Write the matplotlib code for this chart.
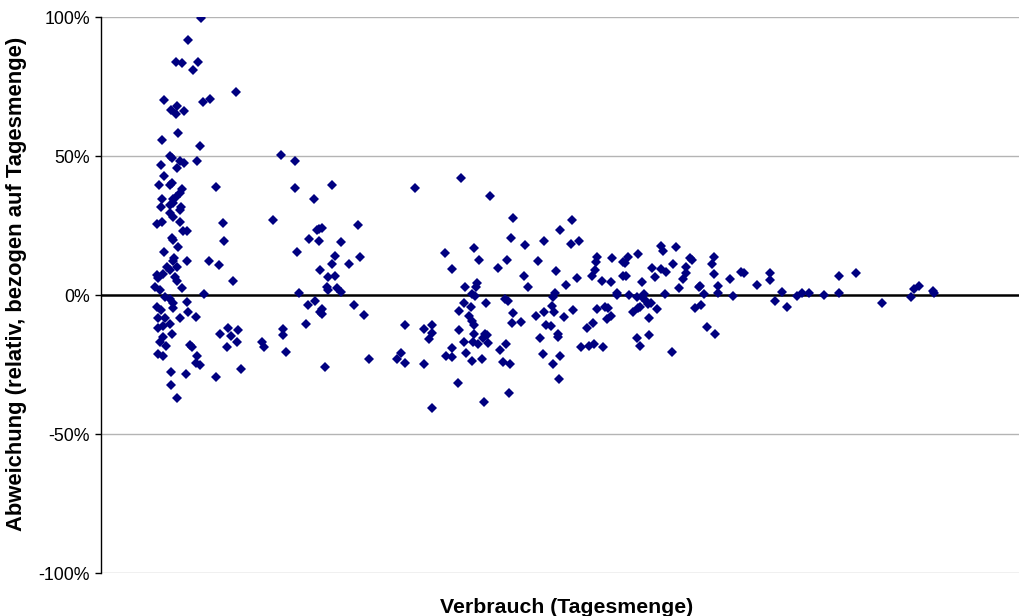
import matplotlib.pyplot as plt
from matplotlib.ticker import FuncFormatter

plt.rcParams['font.family'] = ['Liberation Sans', 'DejaVu Sans']

# Verbrauch (arbitrary units, axis has no scale) and relative deviation in percent
verbrauch_a = [100, 87, 75, 81, 97, 92, 135, 63, 102, 109, 76, 70, 75, 83, 77, 61, 99, 69, 71,
               60, 79, 83, 96, 76, 63, 58, 69, 71, 115, 81, 79, 61, 72, 75, 60, 69, 80, 72]
abweichung_a = [99.5, 91.6, 83.8, 83.5, 83.8, 81.0, 72.9, 70.1, 69.3, 70.5, 67.9, 66.4, 65.0,
                66.3, 58.4, 55.8, 53.5, 50.0, 49.2, 46.8, 48.3, 47.5, 48.3, 45.6, 42.9, 39.6,
                39.6, 40.3, 39.0, 38.0, 36.8, 34.4, 34.4, 35.1, 31.8, 32.4, 31.8, 33.0]

verbrauch_b = [79, 69, 72, 56, 61, 79, 122, 82, 86, 123, 71, 72, 63, 77, 73, 72, 86, 108, 118,
               66, 69, 76, 56, 57, 62, 74, 76, 132, 81, 54, 59, 64, 69, 103, 86, 72, 72, 56,
               60, 87, 95, 79, 57, 64, 62, 69, 57, 71, 62, 59, 65, 89, 91, 57, 62, 96, 95, 99,
               70, 85, 115, 70, 76, 127, 137, 119, 130, 136, 126, 140]
abweichung_b = [30.6, 29.4, 28.2, 25.5, 26.4, 26.4, 25.8, 23.1, 22.9, 19.4, 20.6, 19.8, 15.4,
                17.4, 13.2, 12.3, 12.1, 12.1, 10.9, 10.2, 9.0, 10.2, 7.2, 6.0, 7.6, 6.4, 5.1,
                5.0, 2.4, 2.8, 1.8, -0.8, -1.5, 0.3, -2.4, -3.0, -4.8, -4.2, -5.4, -6.2, -7.8,
                -8.2, -8.4, -8.4, -11.2, -10.5, -12.0, -14.1, -15.0, -16.8, -18.3, -18.0,
                -18.8, -21.2, -21.9, -21.8, -24.6, -25.3, -27.7, -28.4, -29.6, -32.4, -37.2,
                -12.0, -12.5, -14.0, -14.9, -16.8, -18.7, -26.6]

verbrauch_c = [180, 194, 194, 231, 213, 172, 216, 221, 218, 257, 208, 218, 240, 196, 234, 259,
               231, 248, 219, 227, 234, 226, 227, 236, 240, 198, 214, 207, 253, 221, 219, 221,
               263, 205, 182, 182, 185, 224, 268, 161, 163]
abweichung_c = [50.3, 48.2, 38.5, 39.7, 34.5, 26.9, 23.4, 24.2, 23.7, 25.3, 20.3, 19.5, 19.1,
                15.6, 14.0, 13.7, 11.3, 11.3, 9.0, 6.4, 6.7, 2.9, 1.8, 2.4, 1.2, 0.7, -2.0,
                -3.6, -3.5, -5.0, -6.0, -6.8, -7.1, -10.5, -12.1, -14.5, -20.4, -25.9, -23.0,
                -17.0, -18.8]

verbrauch_d = [314, 360, 389, 412, 410, 424, 443, 373, 344, 378, 406, 437, 397, 351, 423, 376,
               375, 364, 427, 371, 374, 363, 385, 370, 404, 407, 358, 412, 368, 371, 373, 411,
               420, 435, 443, 445, 304, 323, 331, 331, 328, 358, 373, 384, 386, 382, 363, 372,
               377, 387, 405, 439, 351, 399, 300, 296, 304, 323, 345, 351, 365, 371, 381, 402,
               409, 442, 357, 408, 383, 331]
abweichung_d = [38.6, 42.1, 35.5, 27.6, 20.6, 17.9, 19.5, 17.0, 15.1, 12.5, 12.5, 12.1, 9.7,
                9.4, 6.9, 4.4, 2.8, 2.8, 2.8, 0.4, -0.5, -2.8, -2.8, -4.3, -1.5, -2.0, -5.9,
                -6.6, -7.6, -9.2, -10.8, -10.2, -9.7, -7.4, -6.2, -10.9, -10.9, -12.1, -10.7,
                -13.8, -15.9, -12.6, -13.9, -14.0, -14.4, -15.6, -16.8, -16.8, -17.5, -17.2,
                -17.5, -15.6, -19.2, -19.9, -21.0, -23.1, -24.6, -24.9, -21.8, -22.2, -21.0,
                -23.9, -23.1, -24.1, -24.9, -21.3, -31.5, -35.1, -38.6, -40.5]

verbrauch_e = [471, 459, 470, 478, 455, 476, 465, 454, 452, 451, 453, 463, 472, 450, 457, 457,
               459, 452, 458, 480, 488, 493, 502, 486, 492, 496, 504, 507, 510, 506, 496, 495,
               494, 491, 501, 511, 510, 522, 524, 527, 522, 525, 537, 516, 516, 528, 536, 541,
               543, 541, 545, 547, 550, 539, 537, 532, 556, 548, 548, 536, 539, 571, 551, 554,
               560, 565, 560, 562, 575, 572, 564, 578, 582, 585, 585, 589, 591, 594, 598]
abweichung_e = [27.0, 23.4, 18.2, 19.4, 8.6, 6.2, 3.5, 0.8, -0.8, -3.8, -6.2, -7.8, -5.5,
                -11.3, -13.9, -15.2, -21.9, -24.8, -30.1, -18.8, -18.2, -17.5, -18.8, -11.8,
                -10.2, -5.0, -4.2, -4.8, -7.4, -8.6, 13.8, 12.0, 9.0, 6.9, 5.1, 13.2, 4.6, 12.0,
                11.6, 13.6, 6.9, 6.9, 14.7, 0.8, 0.0, 0.0, -0.8, -0.8, 0.3, 4.6, -2.2, -3.4,
                -2.8, -4.2, -4.6, -6.0, -5.0, -8.3, -14.5, -15.6, -18.3, -20.4, 9.8, 6.6, 9.4,
                8.3, 17.6, 15.9, 17.2, 11.3, 0.4, 2.6, 5.9, 7.8, 10.0, 13.4, 12.6, -4.8, 3.0]

verbrauch_f = [613, 611, 613, 599, 603, 617, 617, 600, 606, 614, 629, 632, 640, 643, 656, 669,
               669, 674, 681, 686, 696, 701, 708, 723, 738, 738, 755, 781, 810, 813, 818, 832,
               833]
abweichung_f = [13.7, 11.3, 7.4, 3.1, 0.4, 3.1, 0.7, -3.6, -11.4, -14.1, 5.8, -0.5, 8.3, 7.8,
                3.5, 7.8, 5.4, -2.3, 1.2, -4.4, -0.5, 0.8, 0.7, 0.0, 6.9, 0.7, 7.8, -2.8, -0.8,
                2.0, 3.2, 1.5, 0.6]

verbrauch = verbrauch_a + verbrauch_b + verbrauch_c + verbrauch_d + verbrauch_e + verbrauch_f
abweichung = (abweichung_a + abweichung_b + abweichung_c + abweichung_d + abweichung_e
              + abweichung_f)

y_ticks = [-100, -50, 0, 50, 100]

fig = plt.figure(figsize=(10.19, 6.16), dpi=100)
ax = fig.add_axes([0.099, 0.0698, 0.901, 0.9026])

for t in y_ticks:
    if t != 0:
        ax.axhline(t, color='#b4b4b4', lw=1, zorder=1)
ax.axhline(0, color='black', lw=1.8, zorder=2)

ax.plot(verbrauch, abweichung, 'D', color='#000080', ms=4.8, mew=0, zorder=3)

ax.set_xlim(0, 918)
ax.set_ylim(-100, 100)
ax.set_yticks(y_ticks)
ax.yaxis.set_major_formatter(FuncFormatter(lambda v, p: f'{int(v)}%'))
ax.set_xticks([])
ax.tick_params(axis='y', length=4, width=1, labelsize=12.8, pad=4)

for s in ['top', 'right', 'bottom']:
    ax.spines[s].set_visible(False)
ax.spines['left'].set_linewidth(1)

ax.set_xlabel('Verbrauch (Tagesmenge)', fontsize=15.3, fontweight='bold')
ax.xaxis.set_label_coords(0.507, -0.045)
ax.xaxis.label.set_va('top')
ax.set_ylabel('Abweichung (relativ, bezogen auf Tagesmenge)', fontsize=15.8,
              fontweight='bold')
ax.yaxis.set_label_coords(-0.08, 0.52)

fig.savefig('out.png', dpi=100)
